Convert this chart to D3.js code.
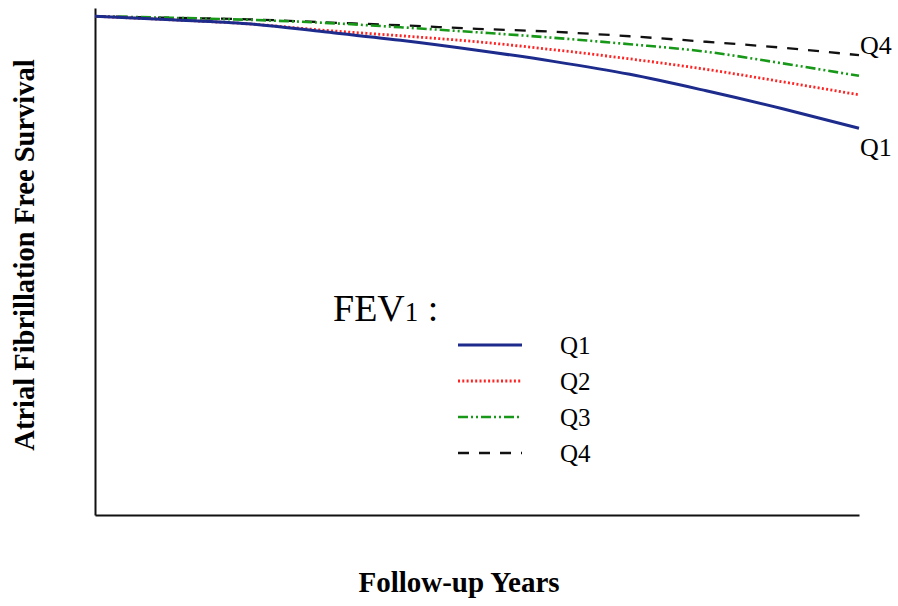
<!DOCTYPE html>
<html>
<head>
<meta charset="utf-8">
<script src="https://cdn.jsdelivr.net/npm/d3@7"></script>
<style>
    body { margin: 0; background: #fff; }
    text { font-family: "Liberation Serif", "Times New Roman", serif; }
</style>
</head>
<body>
<div id="container"></div>
<script>
const width = 898
const height = 606

// follow-up years (no tick labels in the original)
const years = [0, 1, 2, 3, 4, 5, 6, 7, 8, 9, 10]

// estimated AF-free survival per FEV1 quartile
const q1 = [1.000, 0.9979, 0.9955, 0.9907, 0.9856, 0.9796, 0.9729, 0.9651, 0.9552, 0.9444, 0.9327]
const q2 = [1.000, 0.9979, 0.9955, 0.9916, 0.9883, 0.9847, 0.9799, 0.9744, 0.9681, 0.9606, 0.9528]
const q3 = [1.000, 0.9991, 0.9979, 0.9961, 0.9934, 0.9904, 0.9871, 0.9832, 0.9787, 0.9717, 0.9642]
const q4 = [1.000, 0.9991, 0.9982, 0.9964, 0.9946, 0.9925, 0.9907, 0.9880, 0.9847, 0.9811, 0.9766]

const seriesNames = ["Q1", "Q2", "Q3", "Q4"]

const styles = {
    Q1: { color: "#1c2b8c", width: 3, dash: null },
    Q2: { color: "#ff2424", width: 2.8, dash: "2,2.3" },
    Q3: { color: "#189818", width: 2.6, dash: "10,3,2,3,2,3" },
    Q4: { color: "#111", width: 2.3, dash: "11,10" },
}

const series = [q1, q2, q3, q4].map((vals, i) => ({
    name: seriesNames[i],
    points: years.map((yr, j) => [yr, vals[j]])
}))

const svg = d3.select('#container')
    .append('svg').attr('width', width).attr('height', height)

const x = d3.scaleLinear().domain([0, 10]).range([95, 859])
const y = d3.scaleLinear().domain([0.7, 1.005]).range([515, 8])

// axes without ticks
svg.append("g")
    .attr("transform", "translate(0,515)")
    .call(d3.axisBottom(x).tickValues([]).tickSizeOuter(0))
    .select(".domain").attr("stroke", "#111").attr("stroke-width", 2)
svg.append("g")
    .attr("transform", "translate(95,0)")
    .call(d3.axisLeft(y).tickValues([]).tickSizeOuter(0))
    .select(".domain").attr("stroke", "#111").attr("stroke-width", 2)

const line = d3.line()
    .x(d => x(d[0]))
    .y(d => y(d[1]))
    .curve(d3.curveMonotoneX)

// draw Q4 first so Q1 ends up on top
series.slice().reverse().forEach(s => {
    const st = styles[s.name]
    svg.append("path")
        .attr("d", line(s.points))
        .attr("fill", "none")
        .attr("stroke", st.color)
        .attr("stroke-width", st.width)
        .attr("stroke-dasharray", st.dash)
})

// end labels
svg.append("text")
    .attr("x", x(10) + 1)
    .attr("y", y(q4[q4.length - 1]) - 1)
    .attr("font-size", 26)
    .text("Q4")
svg.append("text")
    .attr("x", x(10) + 1)
    .attr("y", y(q1[q1.length - 1]) + 28)
    .attr("font-size", 26)
    .text("Q1")

// legend
const legend = svg.append("g")
const title = legend.append("text")
    .attr("x", 333)
    .attr("y", 321)
    .attr("font-size", 38)
title.append("tspan").text("FEV")
title.append("tspan").attr("font-size", 27).text("1")
title.append("tspan").text(" :")

seriesNames.forEach((name, i) => {
    const st = styles[name]
    const ly = 345 + i * 36
    legend.append("line")
        .attr("x1", 458).attr("x2", 522)
        .attr("y1", ly).attr("y2", ly)
        .attr("stroke", st.color)
        .attr("stroke-width", st.width)
        .attr("stroke-dasharray", st.dash)
    legend.append("text")
        .attr("x", 560)
        .attr("y", ly + 9)
        .attr("font-size", 25)
        .text(name)
})

// axis titles
svg.append("text")
    .attr("x", 459)
    .attr("y", 592)
    .attr("text-anchor", "middle")
    .attr("font-size", 29)
    .attr("font-weight", "bold")
    .text("Follow-up Years")

svg.append("text")
    .attr("transform", "translate(34,255) rotate(-90)")
    .attr("text-anchor", "middle")
    .attr("font-size", 28.5)
    .attr("font-weight", "bold")
    .text("Atrial Fibrillation Free Survival")
</script>
</body>
</html>
